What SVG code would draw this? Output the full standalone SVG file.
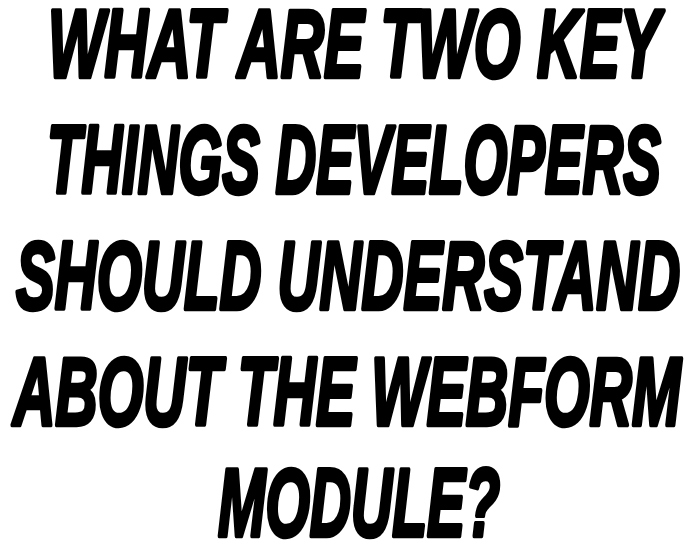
<svg xmlns="http://www.w3.org/2000/svg" width="696" height="548" viewBox="0 0 696 548">
<style>
.t{font-family:"Liberation Sans","Arial",sans-serif;font-weight:bold;font-style:italic;font-size:96px;fill:#000;stroke:#000;stroke-width:4.5;stroke-linejoin:round}
</style>
<rect width="696" height="548" fill="#fff"/>
<g id="title" transform="scale(0.6,1)">
<text class="t" x="80" y="77" textLength="1020" lengthAdjust="spacingAndGlyphs">WHAT ARE TWO KEY</text>
<text class="t" x="78.3" y="193" textLength="1023" lengthAdjust="spacingAndGlyphs">THINGS DEVELOPERS</text>
<text class="t" x="26.7" y="309" textLength="1107" lengthAdjust="spacingAndGlyphs">SHOULD UNDERSTAND</text>
<text class="t" x="21.7" y="425" textLength="1113" lengthAdjust="spacingAndGlyphs">ABOUT THE WEBFORM</text>
<text class="t" x="363.3" y="536" textLength="470" lengthAdjust="spacingAndGlyphs">MODULE?</text>
</g>
</svg>
